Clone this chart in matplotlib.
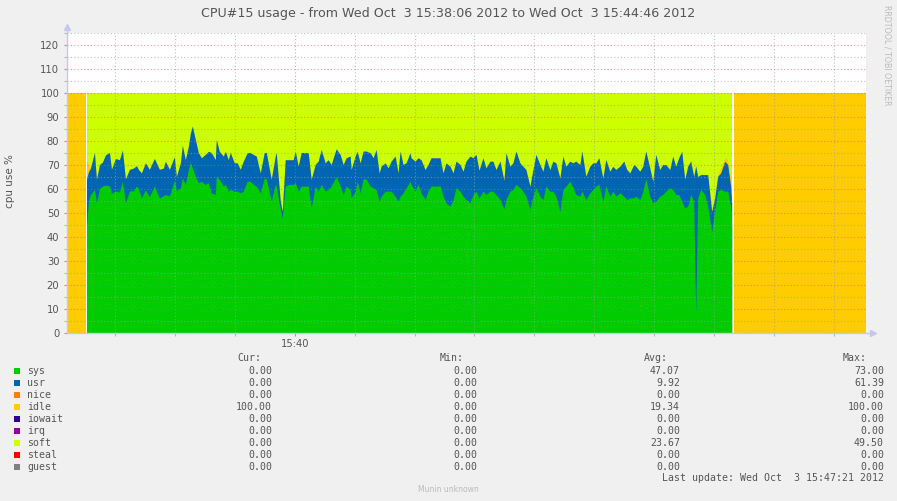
import matplotlib
matplotlib.use("Agg")
import matplotlib.pyplot as plt
from matplotlib.patches import Rectangle
import numpy as np

# seconds after 15:38:06, samples where the cpu was busy
t_sec = [10, 11, 12, 14, 15, 16.5, 18, 19.5, 21.5, 22.5,
         24.5, 26.5, 28, 29.5, 31.5, 33.5, 35, 36, 37.5, 39.5,
         41.5, 44, 46.5, 48.5, 49.5, 51.5, 54, 55, 57, 58,
         59.5, 61, 62, 63, 64.5, 66, 67.5, 69.5, 71, 72.5,
         74.5, 75, 76.5, 78.5, 79.5, 81, 82, 84, 85.5, 87,
         88.5, 90.5, 92, 93.5, 95, 97, 99, 100, 101, 102.5,
         104.5, 105, 107, 108, 109.5, 111.5, 113.5, 114.5, 116, 117.5,
         119.5, 121, 122.5, 124.5, 126, 127.5, 129.5, 131, 132.5, 135,
         137, 138.5, 140, 142, 142.5, 144.5, 145.5, 147, 148.5, 150,
         152, 153.5, 155, 156.5, 157.5, 159.5, 161, 162.5, 164.5, 166,
         167, 168.5, 170, 172, 172.5, 174.5, 176, 177.5, 179.5, 181,
         182.5, 184.5, 187, 188.5, 190, 192, 193.5, 195, 197, 198.5,
         200, 202, 203.5, 205, 206.5, 208.5, 210, 212, 213.5, 215,
         217, 219, 220, 222, 223.5, 225, 227, 228.5, 230, 232,
         233.5, 235, 237, 238.5, 240, 242, 243.5, 245, 247, 248.5,
         250, 252, 253.5, 255, 257, 258, 260, 262, 263.5, 265,
         266.5, 268.5, 270, 272, 273.5, 275, 277, 279, 280.5, 282,
         284, 285, 287, 288.5, 290, 292, 293.5, 295, 297, 298.5,
         300, 302, 303.5, 305, 306.5, 308, 309.5, 311, 312.5, 314,
         315, 316, 317.5, 319.5, 321, 323, 324.5, 326, 327.5, 329.5,
         331, 332.5, 333]

sys_pct = [44, 55, 57.5, 59.6, 54, 60, 61, 61.5, 61, 58,
           59, 58.5, 63, 54, 59, 59, 61, 60, 56, 59.5,
           56.5, 61, 56, 57, 57.5, 56.8, 63.4, 59, 60.3, 64.4,
           61.7, 68, 71, 68.5, 65, 62.4, 63, 61.7, 62.4, 58.2,
           57.5, 65, 63.8, 61, 61.7, 58.9, 59.6, 58.9, 58.9, 58.2,
           58.9, 63, 63, 61.7, 61, 58.2, 64.4, 64, 60.3, 54.7,
           61.7, 61, 51.6, 47.5, 61, 61.7, 61.7, 62.4, 58.9, 61,
           61, 61, 52, 61, 58.9, 61.7, 58.9, 59.6, 61, 65,
           61, 57.5, 61, 59.6, 56.1, 58.9, 63, 58.2, 64, 64,
           61, 60.3, 59.6, 54.7, 56.8, 58.9, 58.9, 58.9, 56.8, 54.7,
           56.8, 58.2, 60.3, 63, 61.7, 58.9, 61.7, 58.2, 55.4, 58.9,
           61, 61, 61, 56.8, 54, 52.6, 55.4, 60.3, 58.9, 56.8,
           55.4, 54, 57.5, 58.9, 56.1, 58.9, 57.5, 58.9, 58.9, 57.5,
           55.4, 51.6, 55.4, 58.9, 59.6, 61.7, 60.3, 58.9, 56.8, 51.6,
           56.8, 60.3, 56.8, 55.4, 61, 58.9, 58.9, 56.8, 50.5, 59.6,
           61, 63, 60.3, 57.5, 56.8, 58.9, 55.4, 58.2, 59.6, 61,
           61.7, 54.7, 61, 56.8, 58.9, 56.8, 58.2, 56.8, 55.4, 56.1,
           56.1, 56.8, 55.4, 58.9, 64, 56.8, 54, 54.7, 56.8, 57.5,
           58.9, 60.3, 59.6, 57.5, 57.5, 54.7, 51.9, 52.6, 57.5, 55,
           8, 56.1, 59.6, 57.5, 52.6, 42, 51.3, 58.9, 59.6, 58.9,
           58.9, 52.6, 45]

usr_pct = [20, 12, 11, 15.4, 9.8, 10, 10, 12.5, 14, 10,
           13.5, 13.5, 13, 10, 9, 9.5, 8.5, 8, 10.5, 11.2,
           11.5, 11.5, 12, 11.5, 13.9, 11.2, 9.8, 6, 10.4, 13.6,
           10.3, 9.6, 12, 17.5, 15.4, 12.6, 9.8, 12.5, 13.1, 16.8,
           14.5, 15.4, 11.7, 12.5, 13.8, 13.1, 15.4, 11.8, 11.8, 9.8,
           12.5, 12, 12, 12.5, 12.5, 8.3, 10.6, 11, 10.4, 9.1,
           11.8, 14, 3.4, 3, 11, 10.3, 10.3, 13.2, 10.4, 14,
           14, 14, 11.8, 9, 12.5, 14.6, 11.8, 12.4, 9, 11.5,
           13.2, 12.5, 11.8, 13.9, 11.8, 14.6, 12.6, 12.5, 11.6, 11.6,
           13.9, 12.5, 16.6, 11.8, 12.5, 11.8, 9.7, 12.5, 16.7, 11.8,
           18.8, 11.8, 10.4, 11.9, 11.1, 12.5, 11.1, 13.8, 12.5, 11.1,
           11.8, 11.8, 11.8, 9.7, 16.7, 16.7, 11.1, 11.1, 11.1, 10.4,
           16, 19.5, 15.3, 15.3, 11.5, 13.9, 11.1, 12.5, 12.5, 10.4,
           16, 11.8, 19.5, 10.4, 11.1, 13.9, 10.4, 10.4, 11.1, 9.4,
           11.1, 13.9, 13.2, 11.8, 11.8, 9, 12.5, 13.9, 13.9, 13.9,
           8.3, 8.4, 10.4, 13.9, 13.2, 16.7, 9.7, 11.1, 11.1, 9.7,
           11.1, 9.7, 11.1, 10.4, 10.4, 11.1, 11.1, 14.6, 12.5, 10.4,
           13.9, 12.5, 11.8, 10.4, 11.6, 11.8, 9, 19.5, 11.1, 12.5,
           11.1, 7.6, 13.9, 11.8, 15.3, 20.9, 11.9, 16.7, 13.9, 10,
           61.4, 8.9, 6.2, 8.3, 13.2, 8.5, 4.8, 6.2, 6.9, 12.5,
           11.1, 8.4, 9]

# small idle slivers inside the busy period
idle_spots = {10: 8, 11: 3, 326: 1, 327.5: 2, 329.5: 1.5, 331: 2, 332.5: 3, 333: 3}
idle_before = [0, 9.3]
idle_after = [334, 400]

names = ['sys', 'usr', 'nice', 'idle', 'iowait', 'irq', 'soft', 'steal', 'guest']
colors = ['#00CC00', '#0066B3', '#FF8000', '#FFCC00', '#330099',
          '#990099', '#CCFF00', '#FF0000', '#808080']
cur_vals = [0, 0, 0, 100, 0, 0, 0, 0, 0]
min_vals = [0, 0, 0, 0, 0, 0, 0, 0, 0]
avg_vals = [47.07, 9.92, 0, 19.34, 0, 0, 23.67, 0, 0]
max_vals = [73.00, 61.39, 0, 100.00, 0, 0, 49.50, 0, 0]

title = 'CPU#15 usage - from Wed Oct  3 15:38:06 2012 to Wed Oct  3 15:44:46 2012'
last_update = 'Last update: Wed Oct  3 15:47:21 2012'
start_clock = 15 * 3600 + 38 * 60 + 6
span = 400

W, H = 897, 501
def fx(x):
    return x / W
def fy(y):
    return 1 - y / H

# build full series (idle - busy - idle), NaN rows leave the unknown gaps
sys_a = np.array(sys_pct, float)
usr_a = np.array(usr_pct, float)
idle_a = np.array([idle_spots.get(t, 0.0) for t in t_sec])
soft_a = 100 - sys_a - usr_a - idle_a
zero_a = np.zeros(len(t_sec))

t = np.concatenate([idle_before, [9.6], t_sec, [333.5], idle_after])
def full(active, idle_val):
    return np.concatenate([[idle_val] * 2, [np.nan], active, [np.nan], [idle_val] * 2])

vals = {n: full(zero_a, 0) for n in names}
vals['sys'] = full(sys_a, 0)
vals['usr'] = full(usr_a, 0)
vals['idle'] = full(idle_a, 100)
vals['soft'] = full(soft_a, 0)

fig = plt.figure(figsize=(W / 100, H / 100), dpi=100, facecolor='#F0F0F0')
ax = fig.add_axes([fx(67), fy(333), 799 / W, 300 / H])
ax.set_facecolor('white')

cum = np.zeros(len(t))
tops = []
for n in names:
    cum = cum + vals[n]
    tops.append(cum.copy())
# paint from the top of the stack down so no seams show
for n, c, top in reversed(list(zip(names, colors, tops))):
    if np.nanmax(np.abs(vals[n])) == 0:
        continue
    ax.fill_between(t, 0, top, color=c, linewidth=0, zorder=1)

ax.set_xlim(0, span)
ax.set_ylim(0, 125)
ax.set_yticks(np.arange(0, 121, 10))
ax.set_yticks(np.arange(5, 126, 10), minor=True)

marks = range(-(-start_clock // 30) * 30, start_clock + span + 1, 30)
major = [m - start_clock for m in marks if m % 300 == 0]
minor = [m - start_clock for m in marks if m % 300]
ax.set_xticks(major)
ax.set_xticklabels(['%d:%02d' % ((m + start_clock) // 3600, (m + start_clock) % 3600 // 60) for m in major])
ax.set_xticks(minor, minor=True)

ax.set_axisbelow(False)
ax.grid(which='major', color='#E06060', alpha=0.6, linestyle=(0, (1, 2)), linewidth=0.8)
ax.grid(which='minor', color='#A0A0A0', alpha=0.65, linestyle=(0, (1, 2)), linewidth=0.8)
ax.tick_params(which='major', direction='out', length=2.5, width=0.8, color='#E08080',
               labelsize=7.2, labelcolor='#555555', pad=3)
ax.tick_params(which='minor', direction='out', length=2, width=0.8, color='#B8B8B8')
ax.tick_params(axis='x', which='major', pad=1.5)
for s in ax.spines.values():
    s.set_visible(False)

axc = '#C4C8F0'
ax.plot([0, 0], [0, 1.02], transform=ax.transAxes, color=axc, lw=1, clip_on=False, zorder=5)
ax.plot([0, 1.009], [0, 0], transform=ax.transAxes, color=axc, lw=1, clip_on=False, zorder=5)
ax.plot(0, 1.02, marker='^', ms=5, color=axc, transform=ax.transAxes, clip_on=False, zorder=5)
ax.plot(1.009, 0, marker='>', ms=5, color=axc, transform=ax.transAxes, clip_on=False, zorder=5)

grey = '#555555'
fig.text(fx(448), fy(13), title, ha='center', va='center', fontsize=9.1, color=grey)
fig.text(fx(10), fy(181), 'cpu use %', rotation=90, ha='center', va='center', fontsize=7.5, color=grey)
fig.text(fx(887), fy(5), 'RRDTOOL / TOBI OETIKER', rotation=270, ha='center', va='top',
         fontsize=5.7, color='#BBBBBB')

mono = dict(family='DejaVu Sans Mono', fontsize=7.1, color=grey, va='center')
for label, x in [('Cur:', 237), ('Min:', 440), ('Avg:', 644), ('Max:', 843)]:
    fig.text(fx(x), fy(358), label, ha='left', **mono)

for i, n in enumerate(names):
    y = 370.5 + 12 * i
    fig.patches.append(Rectangle((fx(14), fy(y + 3)), 6 / W, 6 / H, transform=fig.transFigure,
                                 facecolor=colors[i], edgecolor='none'))
    fig.text(fx(27), fy(y), n, ha='left', **mono)
    for col, x in [(cur_vals, 272), (min_vals, 477), (avg_vals, 680), (max_vals, 884)]:
        fig.text(fx(x), fy(y), '%.2f' % col[i], ha='right', **mono)

fig.text(fx(884), fy(478), last_update, ha='right', **mono)
fig.text(fx(448), fy(490), 'Munin unknown', ha='center', va='center', fontsize=5.5, color='#BBBBBB')

fig.savefig('out.png', dpi=100, facecolor=fig.get_facecolor())
